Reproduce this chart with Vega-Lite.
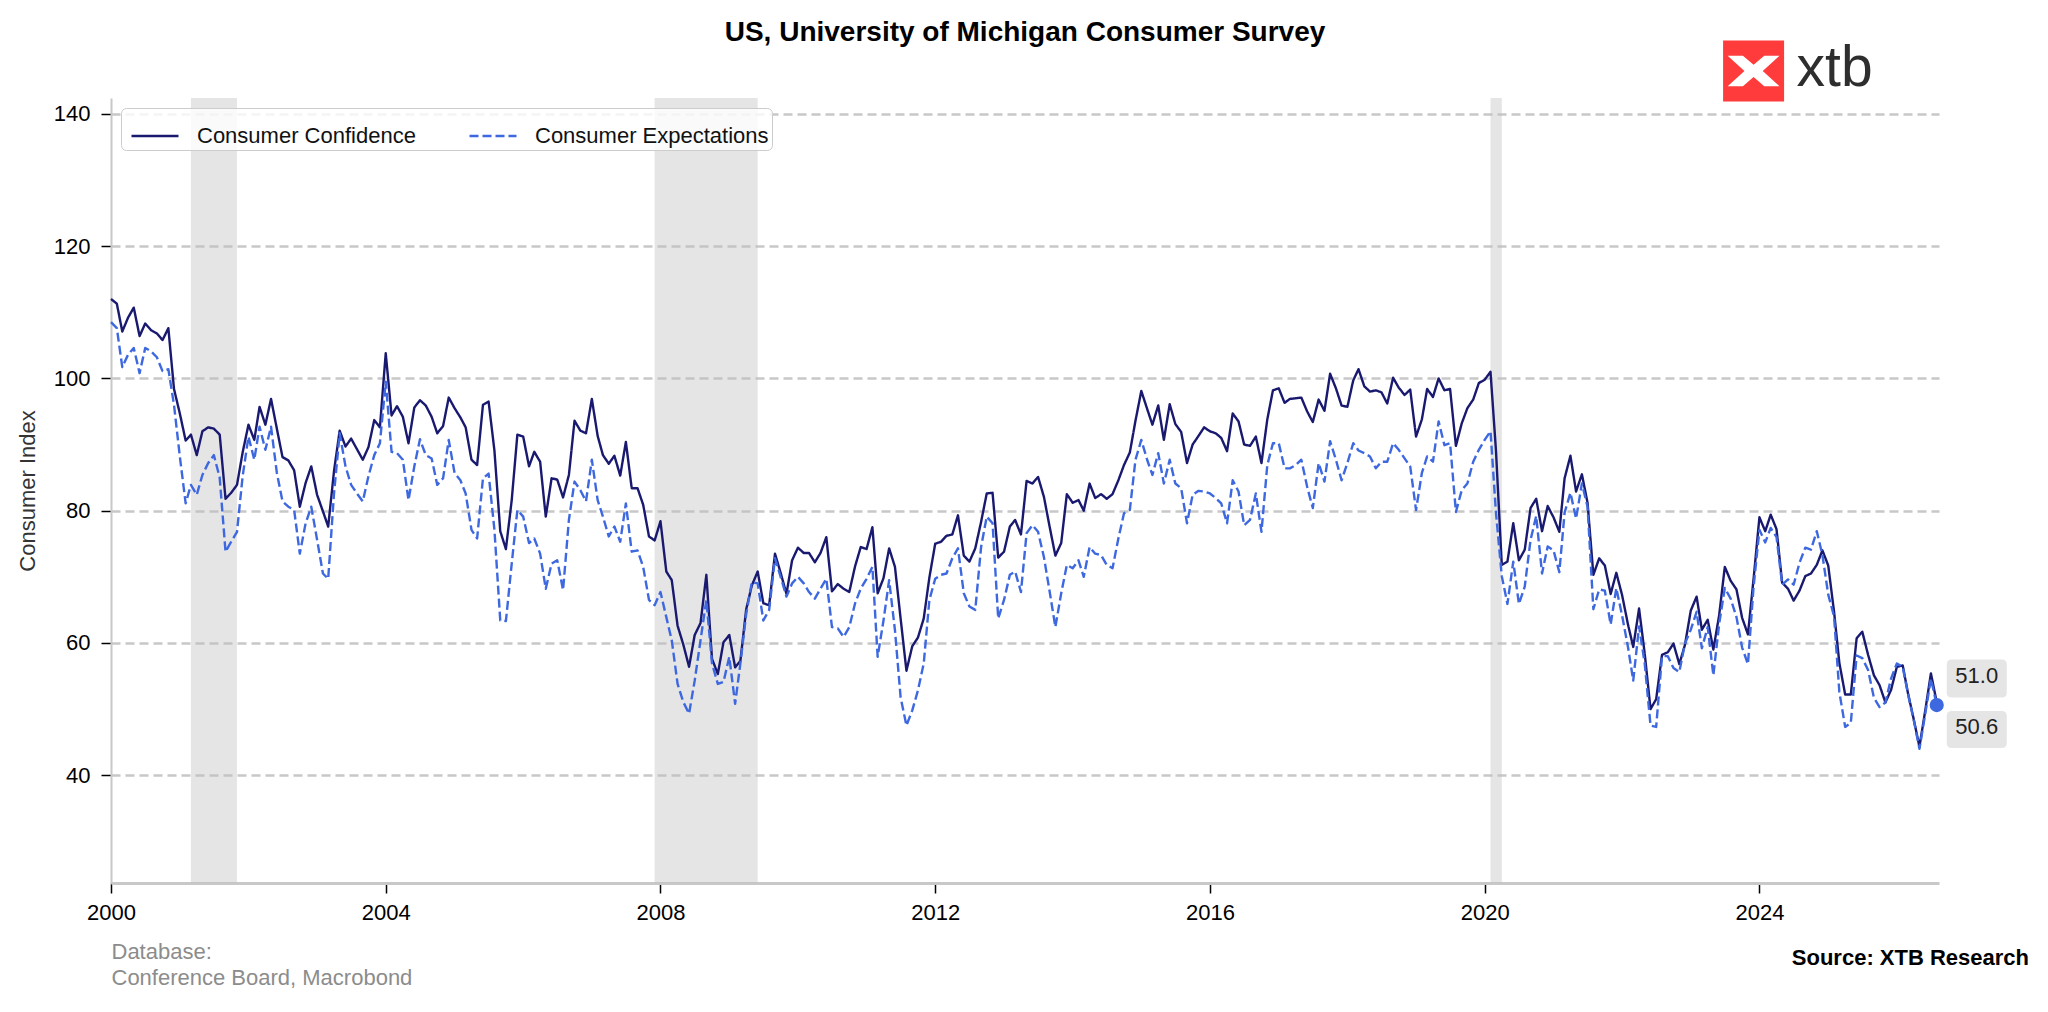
{
  "$schema": "https://vega.github.io/schema/vega-lite/v6.json",
  "autosize": {"type": "none"},
  "padding": {"left": 111, "top": 98, "right": 109, "bottom": 129},
  "width": 1828,
  "height": 785,
  "background": "white",
  "config": {
    "view": {"stroke": null},
    "font": "Liberation Sans"
  },
  "title": {
    "text": "US, University of Michigan Consumer Survey",
    "fontSize": 28,
    "fontWeight": "bold",
    "color": "#000000",
    "anchor": "middle",
    "frame": "group",
    "baseline": "bottom",
    "offset": -35
  },
  "data": {
    "values": [
      {"m":"2000-01-01","c":112.0,"e":108.5},{"m":"2000-02-01","c":111.3,"e":107.6},{"m":"2000-03-01","c":107.1,"e":101.7},{"m":"2000-04-01","c":109.2,"e":103.6},{"m":"2000-05-01","c":110.7,"e":104.6},{"m":"2000-06-01","c":106.4,"e":100.8},{"m":"2000-07-01","c":108.3,"e":104.6},{"m":"2000-08-01","c":107.3,"e":104.1},{"m":"2000-09-01","c":106.8,"e":103.2},{"m":"2000-10-01","c":105.8,"e":101.1},{"m":"2000-11-01","c":107.6,"e":101.4},{"m":"2000-12-01","c":98.4,"e":96.0},
      {"m":"2001-01-01","c":94.7,"e":88.2},{"m":"2001-02-01","c":90.6,"e":81.1},{"m":"2001-03-01","c":91.5,"e":83.9},{"m":"2001-04-01","c":88.4,"e":82.4},{"m":"2001-05-01","c":92.0,"e":85.4},{"m":"2001-06-01","c":92.6,"e":87.2},{"m":"2001-07-01","c":92.4,"e":88.4},{"m":"2001-08-01","c":91.5,"e":85.0},{"m":"2001-09-01","c":81.8,"e":73.8},{"m":"2001-10-01","c":82.7,"e":75.3},{"m":"2001-11-01","c":83.9,"e":76.8},{"m":"2001-12-01","c":88.8,"e":85.2},
      {"m":"2002-01-01","c":93.0,"e":91.2},{"m":"2002-02-01","c":90.7,"e":87.7},{"m":"2002-03-01","c":95.7,"e":92.7},{"m":"2002-04-01","c":93.0,"e":89.2},{"m":"2002-05-01","c":96.9,"e":92.7},{"m":"2002-06-01","c":92.4,"e":85.7},{"m":"2002-07-01","c":88.1,"e":81.4},{"m":"2002-08-01","c":87.6,"e":80.6},{"m":"2002-09-01","c":86.1,"e":80.1},{"m":"2002-10-01","c":80.6,"e":73.5},{"m":"2002-11-01","c":84.2,"e":78.1},{"m":"2002-12-01","c":86.7,"e":80.6},
      {"m":"2003-01-01","c":82.4,"e":75.6},{"m":"2003-02-01","c":79.9,"e":70.5},{"m":"2003-03-01","c":77.6,"e":69.7},{"m":"2003-04-01","c":86.0,"e":82.6},{"m":"2003-05-01","c":92.1,"e":91.7},{"m":"2003-06-01","c":89.7,"e":86.7},{"m":"2003-07-01","c":90.9,"e":83.9},{"m":"2003-08-01","c":89.3,"e":82.6},{"m":"2003-09-01","c":87.7,"e":81.4},{"m":"2003-10-01","c":89.6,"e":85.2},{"m":"2003-11-01","c":93.7,"e":88.4},{"m":"2003-12-01","c":92.6,"e":90.2},
      {"m":"2004-01-01","c":103.8,"e":99.5},{"m":"2004-02-01","c":94.4,"e":88.9},{"m":"2004-03-01","c":95.8,"e":88.7},{"m":"2004-04-01","c":94.2,"e":87.7},{"m":"2004-05-01","c":90.2,"e":81.6},{"m":"2004-06-01","c":95.6,"e":86.7},{"m":"2004-07-01","c":96.7,"e":90.8},{"m":"2004-08-01","c":95.9,"e":88.4},{"m":"2004-09-01","c":94.2,"e":87.9},{"m":"2004-10-01","c":91.7,"e":83.9},{"m":"2004-11-01","c":92.8,"e":84.9},{"m":"2004-12-01","c":97.1,"e":90.7},
      {"m":"2005-01-01","c":95.5,"e":85.7},{"m":"2005-02-01","c":94.1,"e":84.6},{"m":"2005-03-01","c":92.6,"e":82.6},{"m":"2005-04-01","c":87.7,"e":77.1},{"m":"2005-05-01","c":86.9,"e":75.8},{"m":"2005-06-01","c":96.0,"e":84.9},{"m":"2005-07-01","c":96.5,"e":85.6},{"m":"2005-08-01","c":89.1,"e":77.1},{"m":"2005-09-01","c":76.9,"e":63.4},{"m":"2005-10-01","c":74.2,"e":63.3},{"m":"2005-11-01","c":81.6,"e":72.0},{"m":"2005-12-01","c":91.5,"e":80.1},
      {"m":"2006-01-01","c":91.2,"e":79.1},{"m":"2006-02-01","c":86.7,"e":75.1},{"m":"2006-03-01","c":88.9,"e":75.8},{"m":"2006-04-01","c":87.4,"e":73.5},{"m":"2006-05-01","c":79.1,"e":68.2},{"m":"2006-06-01","c":84.9,"e":72.0},{"m":"2006-07-01","c":84.7,"e":72.5},{"m":"2006-08-01","c":82.0,"e":68.0},{"m":"2006-09-01","c":85.4,"e":78.6},{"m":"2006-10-01","c":93.6,"e":84.4},{"m":"2006-11-01","c":92.1,"e":83.1},{"m":"2006-12-01","c":91.7,"e":81.4},
      {"m":"2007-01-01","c":96.9,"e":87.7},{"m":"2007-02-01","c":91.3,"e":81.6},{"m":"2007-03-01","c":88.4,"e":79.1},{"m":"2007-04-01","c":87.1,"e":76.1},{"m":"2007-05-01","c":88.3,"e":77.6},{"m":"2007-06-01","c":85.3,"e":75.3},{"m":"2007-07-01","c":90.4,"e":81.1},{"m":"2007-08-01","c":83.4,"e":73.8},{"m":"2007-09-01","c":83.4,"e":74.0},{"m":"2007-10-01","c":80.9,"e":71.5},{"m":"2007-11-01","c":76.1,"e":66.5},{"m":"2007-12-01","c":75.5,"e":65.7},
      {"m":"2008-01-01","c":78.4,"e":67.7},{"m":"2008-02-01","c":70.8,"e":63.9},{"m":"2008-03-01","c":69.5,"e":60.4},{"m":"2008-04-01","c":62.6,"e":53.8},{"m":"2008-05-01","c":59.8,"e":51.1},{"m":"2008-06-01","c":56.4,"e":49.3},{"m":"2008-07-01","c":61.2,"e":54.3},{"m":"2008-08-01","c":63.0,"e":60.4},{"m":"2008-09-01","c":70.3,"e":66.5},{"m":"2008-10-01","c":57.6,"e":56.9},{"m":"2008-11-01","c":55.3,"e":53.8},{"m":"2008-12-01","c":60.1,"e":54.1},
      {"m":"2009-01-01","c":61.2,"e":57.9},{"m":"2009-02-01","c":56.3,"e":50.8},{"m":"2009-03-01","c":57.3,"e":56.9},{"m":"2009-04-01","c":65.1,"e":64.4},{"m":"2009-05-01","c":68.7,"e":69.2},{"m":"2009-06-01","c":70.8,"e":69.0},{"m":"2009-07-01","c":66.0,"e":63.4},{"m":"2009-08-01","c":65.7,"e":65.0},{"m":"2009-09-01","c":73.5,"e":72.8},{"m":"2009-10-01","c":70.6,"e":70.0},{"m":"2009-11-01","c":67.4,"e":67.0},{"m":"2009-12-01","c":72.5,"e":69.0},
      {"m":"2010-01-01","c":74.4,"e":70.0},{"m":"2010-02-01","c":73.6,"e":69.0},{"m":"2010-03-01","c":73.6,"e":67.7},{"m":"2010-04-01","c":72.2,"e":66.7},{"m":"2010-05-01","c":73.6,"e":68.2},{"m":"2010-06-01","c":76.0,"e":69.7},{"m":"2010-07-01","c":67.8,"e":62.4},{"m":"2010-08-01","c":68.9,"e":62.2},{"m":"2010-09-01","c":68.2,"e":60.9},{"m":"2010-10-01","c":67.7,"e":62.4},{"m":"2010-11-01","c":71.6,"e":66.0},{"m":"2010-12-01","c":74.5,"e":68.2},
      {"m":"2011-01-01","c":74.2,"e":69.7},{"m":"2011-02-01","c":77.5,"e":71.5},{"m":"2011-03-01","c":67.5,"e":57.9},{"m":"2011-04-01","c":69.8,"e":63.4},{"m":"2011-05-01","c":74.3,"e":69.5},{"m":"2011-06-01","c":71.5,"e":61.9},{"m":"2011-07-01","c":63.7,"e":51.8},{"m":"2011-08-01","c":55.8,"e":47.5},{"m":"2011-09-01","c":59.5,"e":49.8},{"m":"2011-10-01","c":60.8,"e":52.8},{"m":"2011-11-01","c":63.7,"e":56.9},{"m":"2011-12-01","c":69.9,"e":66.5},
      {"m":"2012-01-01","c":75.0,"e":69.7},{"m":"2012-02-01","c":75.3,"e":70.3},{"m":"2012-03-01","c":76.2,"e":70.5},{"m":"2012-04-01","c":76.4,"e":72.8},{"m":"2012-05-01","c":79.3,"e":74.3},{"m":"2012-06-01","c":73.2,"e":67.5},{"m":"2012-07-01","c":72.3,"e":65.5},{"m":"2012-08-01","c":74.3,"e":65.0},{"m":"2012-09-01","c":78.3,"e":74.5},{"m":"2012-10-01","c":82.6,"e":79.1},{"m":"2012-11-01","c":82.7,"e":78.1},{"m":"2012-12-01","c":72.9,"e":63.7},
      {"m":"2013-01-01","c":73.8,"e":66.5},{"m":"2013-02-01","c":77.6,"e":70.3},{"m":"2013-03-01","c":78.6,"e":70.8},{"m":"2013-04-01","c":76.4,"e":67.7},{"m":"2013-05-01","c":84.5,"e":76.6},{"m":"2013-06-01","c":84.1,"e":77.8},{"m":"2013-07-01","c":85.1,"e":76.8},{"m":"2013-08-01","c":82.1,"e":73.0},{"m":"2013-09-01","c":77.5,"e":67.7},{"m":"2013-10-01","c":73.2,"e":62.4},{"m":"2013-11-01","c":75.1,"e":67.5},{"m":"2013-12-01","c":82.5,"e":71.8},
      {"m":"2014-01-01","c":81.2,"e":71.3},{"m":"2014-02-01","c":81.6,"e":72.5},{"m":"2014-03-01","c":80.0,"e":70.0},{"m":"2014-04-01","c":84.1,"e":74.5},{"m":"2014-05-01","c":81.9,"e":73.5},{"m":"2014-06-01","c":82.5,"e":73.3},{"m":"2014-07-01","c":81.8,"e":71.8},{"m":"2014-08-01","c":82.5,"e":71.3},{"m":"2014-09-01","c":84.6,"e":75.8},{"m":"2014-10-01","c":86.9,"e":79.6},{"m":"2014-11-01","c":88.8,"e":80.1},{"m":"2014-12-01","c":93.6,"e":87.7},
      {"m":"2015-01-01","c":98.1,"e":90.7},{"m":"2015-02-01","c":95.4,"e":87.7},{"m":"2015-03-01","c":93.0,"e":85.4},{"m":"2015-04-01","c":95.9,"e":88.7},{"m":"2015-05-01","c":90.7,"e":84.1},{"m":"2015-06-01","c":96.1,"e":87.7},{"m":"2015-07-01","c":93.1,"e":84.1},{"m":"2015-08-01","c":91.9,"e":83.4},{"m":"2015-09-01","c":87.2,"e":78.1},{"m":"2015-10-01","c":90.0,"e":82.4},{"m":"2015-11-01","c":91.3,"e":83.0},{"m":"2015-12-01","c":92.6,"e":82.9},
      {"m":"2016-01-01","c":92.0,"e":82.6},{"m":"2016-02-01","c":91.7,"e":81.9},{"m":"2016-03-01","c":91.0,"e":81.1},{"m":"2016-04-01","c":89.0,"e":78.1},{"m":"2016-05-01","c":94.7,"e":84.6},{"m":"2016-06-01","c":93.5,"e":82.9},{"m":"2016-07-01","c":90.0,"e":77.8},{"m":"2016-08-01","c":89.8,"e":78.6},{"m":"2016-09-01","c":91.2,"e":82.6},{"m":"2016-10-01","c":87.2,"e":76.8},{"m":"2016-11-01","c":93.8,"e":86.9},{"m":"2016-12-01","c":98.2,"e":90.2},
      {"m":"2017-01-01","c":98.5,"e":90.2},{"m":"2017-02-01","c":96.3,"e":86.4},{"m":"2017-03-01","c":96.9,"e":86.4},{"m":"2017-04-01","c":97.0,"e":86.9},{"m":"2017-05-01","c":97.1,"e":87.7},{"m":"2017-06-01","c":95.0,"e":83.6},{"m":"2017-07-01","c":93.4,"e":80.4},{"m":"2017-08-01","c":96.8,"e":87.2},{"m":"2017-09-01","c":95.1,"e":84.4},{"m":"2017-10-01","c":100.7,"e":90.5},{"m":"2017-11-01","c":98.5,"e":87.7},{"m":"2017-12-01","c":95.9,"e":84.6},
      {"m":"2018-01-01","c":95.7,"e":87.2},{"m":"2018-02-01","c":99.7,"e":90.2},{"m":"2018-03-01","c":101.4,"e":89.1},{"m":"2018-04-01","c":98.8,"e":88.7},{"m":"2018-05-01","c":98.0,"e":88.2},{"m":"2018-06-01","c":98.2,"e":86.4},{"m":"2018-07-01","c":97.9,"e":87.4},{"m":"2018-08-01","c":96.2,"e":87.4},{"m":"2018-09-01","c":100.1,"e":90.2},{"m":"2018-10-01","c":98.6,"e":89.2},{"m":"2018-11-01","c":97.5,"e":87.9},{"m":"2018-12-01","c":98.3,"e":86.7},
      {"m":"2019-01-01","c":91.2,"e":80.1},{"m":"2019-02-01","c":93.8,"e":85.7},{"m":"2019-03-01","c":98.4,"e":88.2},{"m":"2019-04-01","c":97.2,"e":87.4},{"m":"2019-05-01","c":100.0,"e":93.5},{"m":"2019-06-01","c":98.2,"e":89.9},{"m":"2019-07-01","c":98.4,"e":90.2},{"m":"2019-08-01","c":89.8,"e":79.8},{"m":"2019-09-01","c":93.2,"e":83.1},{"m":"2019-10-01","c":95.5,"e":84.1},{"m":"2019-11-01","c":96.8,"e":87.4},{"m":"2019-12-01","c":99.3,"e":89.2},
      {"m":"2020-01-01","c":99.8,"e":90.7},{"m":"2020-02-01","c":101.0,"e":92.0},{"m":"2020-03-01","c":89.1,"e":79.7},{"m":"2020-04-01","c":71.8,"e":70.1},{"m":"2020-05-01","c":72.3,"e":65.9},{"m":"2020-06-01","c":78.1,"e":72.3},{"m":"2020-07-01","c":72.5,"e":65.9},{"m":"2020-08-01","c":74.1,"e":68.5},{"m":"2020-09-01","c":80.4,"e":75.6},{"m":"2020-10-01","c":81.8,"e":79.2},{"m":"2020-11-01","c":76.9,"e":70.5},{"m":"2020-12-01","c":80.7,"e":74.6},
      {"m":"2021-01-01","c":79.0,"e":74.0},{"m":"2021-02-01","c":76.8,"e":70.7},{"m":"2021-03-01","c":84.9,"e":79.7},{"m":"2021-04-01","c":88.3,"e":82.7},{"m":"2021-05-01","c":82.9,"e":78.8},{"m":"2021-06-01","c":85.5,"e":84.1},{"m":"2021-07-01","c":81.2,"e":80.6},{"m":"2021-08-01","c":70.3,"e":65.1},{"m":"2021-09-01","c":72.8,"e":68.1},{"m":"2021-10-01","c":71.7,"e":67.9},{"m":"2021-11-01","c":67.4,"e":62.8},{"m":"2021-12-01","c":70.6,"e":68.3},
      {"m":"2022-01-01","c":67.2,"e":64.1},{"m":"2022-02-01","c":62.8,"e":59.4},{"m":"2022-03-01","c":59.4,"e":54.3},{"m":"2022-04-01","c":65.2,"e":62.5},{"m":"2022-05-01","c":58.4,"e":56.9},{"m":"2022-06-01","c":50.0,"e":47.5},{"m":"2022-07-01","c":51.5,"e":47.3},{"m":"2022-08-01","c":58.2,"e":58.0},{"m":"2022-09-01","c":58.6,"e":58.0},{"m":"2022-10-01","c":59.9,"e":56.2},{"m":"2022-11-01","c":56.8,"e":55.6},{"m":"2022-12-01","c":59.7,"e":59.9},
      {"m":"2023-01-01","c":64.9,"e":62.0},{"m":"2023-02-01","c":67.0,"e":64.7},{"m":"2023-03-01","c":62.0,"e":59.2},{"m":"2023-04-01","c":63.5,"e":62.4},{"m":"2023-05-01","c":59.0,"e":55.1},{"m":"2023-06-01","c":64.2,"e":62.9},{"m":"2023-07-01","c":71.5,"e":68.3},{"m":"2023-08-01","c":69.4,"e":66.7},{"m":"2023-09-01","c":68.1,"e":63.9},{"m":"2023-10-01","c":63.8,"e":59.3},{"m":"2023-11-01","c":61.3,"e":56.8},{"m":"2023-12-01","c":69.7,"e":68.5},
      {"m":"2024-01-01","c":79.0,"e":77.1},{"m":"2024-02-01","c":76.9,"e":75.2},{"m":"2024-03-01","c":79.4,"e":77.4},{"m":"2024-04-01","c":77.2,"e":76.0},{"m":"2024-05-01","c":69.1,"e":68.8},{"m":"2024-06-01","c":68.2,"e":69.6},{"m":"2024-07-01","c":66.4,"e":68.8},{"m":"2024-08-01","c":67.9,"e":72.1},{"m":"2024-09-01","c":70.1,"e":74.4},{"m":"2024-10-01","c":70.5,"e":74.1},{"m":"2024-11-01","c":71.8,"e":76.9},{"m":"2024-12-01","c":74.0,"e":73.3},
      {"m":"2025-01-01","c":71.7,"e":67.3},{"m":"2025-02-01","c":64.7,"e":64.0},{"m":"2025-03-01","c":57.0,"e":52.6},{"m":"2025-04-01","c":52.2,"e":47.3},{"m":"2025-05-01","c":52.2,"e":47.9},{"m":"2025-06-01","c":60.7,"e":58.1},{"m":"2025-07-01","c":61.7,"e":57.7},{"m":"2025-08-01","c":58.2,"e":55.9},{"m":"2025-09-01","c":55.1,"e":51.7},{"m":"2025-10-01","c":53.6,"e":50.3},{"m":"2025-11-01","c":51.0,"e":51.0},{"m":"2025-12-01","c":52.9,"e":54.6},
      {"m":"2026-01-01","c":56.4,"e":56.9},{"m":"2026-02-01","c":56.6,"e":56.4},{"m":"2026-03-01","c":52.4,"e":52.3},{"m":"2026-04-01","c":48.4,"e":48.3},{"m":"2026-05-01","c":44.3,"e":44.0},{"m":"2026-06-01","c":49.8,"e":49.3},{"m":"2026-07-01","c":55.4,"e":54.6},{"m":"2026-08-01","c":51.0,"e":50.6}
    ]
  },
  "layer": [
    {
      "data": {
        "values": [
          {"s": "2001-03-01", "t": "2001-11-01"},
          {"s": "2007-12-01", "t": "2009-06-01"},
          {"s": "2020-02-01", "t": "2020-04-01"}
        ]
      },
      "mark": {"type": "rect", "color": "#bdbdbd", "opacity": 0.4},
      "encoding": {
        "x": {"field": "s", "type": "temporal"},
        "x2": {"field": "t"}
      }
    },
    {
      "transform": [{"fold": ["c", "e"], "as": ["series", "val"]}],
      "encoding": {
        "x": {
          "field": "m",
          "type": "temporal",
          "scale": {
            "type": "utc",
            "nice": false,
            "domain": [
              {"year": 2000, "month": 1, "date": 1, "utc": true},
              {"year": 2026, "month": 8, "date": 13, "utc": true}
            ]
          },
          "axis": {
            "title": ["Database:", "Conference Board, Macrobond"],
            "tickCount": {"interval": "year", "step": 4},
            "format": "%Y",
            "grid": false,
            "domainColor": "#c8c8c8",
            "domainWidth": 3,
            "tickColor": "#000000",
            "tickSize": 10,
            "tickWidth": 1.5,
            "labelFontSize": 22,
            "labelColor": "#000000",
            "labelPadding": 9,
            "labelFlush": false,
            "titleAnchor": "start",
            "titleAlign": "left",
            "titleFontSize": 22,
            "titleFontWeight": "normal",
            "titleColor": "#8c8c8c",
            "titleLineHeight": 26,
            "titlePadding": 18
          }
        },
        "y": {
          "field": "val",
          "type": "quantitative",
          "scale": {"domain": [23.7, 142.4], "nice": false, "zero": false},
          "axis": {
            "title": "Consumer Index",
            "values": [40, 60, 80, 100, 120, 140],
            "grid": true,
            "gridDash": [9, 5],
            "gridColor": "#c8c8c8",
            "gridWidth": 2.5,
            "domainColor": "#c8c8c8",
            "domainWidth": 2,
            "tickColor": "#000000",
            "tickSize": 10,
            "tickWidth": 1.5,
            "labelFontSize": 22,
            "labelColor": "#000000",
            "labelPadding": 11,
            "titleFontSize": 22,
            "titleFontWeight": "normal",
            "titleColor": "#333333",
            "titlePadding": 14
          }
        }
      },
      "layer": [
        {
          "mark": {"type": "line", "strokeWidth": 2.4, "strokeJoin": "round"},
          "encoding": {
            "color": {
              "field": "series",
              "type": "nominal",
              "scale": {"domain": ["c", "e"], "range": ["#191970", "#3d68e0"]},
              "legend": {
                "title": null,
                "orient": "top-left",
                "offset": 10,
                "direction": "horizontal",
                "symbolType": "stroke",
                "symbolSize": 2209,
                "symbolStrokeWidth": 2.4,
                "symbolOffset": 6,
                "labelFontSize": 22,
                "labelColor": "#111111",
                "labelLimit": 0,
                "labelOffset": 17,
                "columnPadding": 46,
                "padding": 3,
                "fillColor": "rgba(255,255,255,0.8)",
                "strokeColor": "#cccccc",
                "cornerRadius": 5,
                "labelExpr": "datum.label == 'c' ? 'Consumer Confidence' : 'Consumer Expectations'"
              }
            },
            "strokeDash": {
              "field": "series",
              "type": "nominal",
              "scale": {"domain": ["c", "e"], "range": [[1, 0], [9, 4]]}
            }
          }
        },
        {
          "transform": [{"filter": "utcyear(datum.m) == 2026 && utcmonth(datum.m) == 7 && datum.series == 'c'"}],
          "mark": {
            "type": "point",
            "shape": "M1.5,-4.3H6.5Q7,-4.3 7,-3.8V-1Q7,-0.5 6.5,-0.5H1.5Q1,-0.5 1,-1V-3.8Q1,-4.3 1.5,-4.3Z",
            "size": 400,
            "filled": true,
            "color": "#e5e5e5",
            "opacity": 1,
            "strokeWidth": 0
          }
        },
        {
          "transform": [{"filter": "utcyear(datum.m) == 2026 && utcmonth(datum.m) == 7 && datum.series == 'c'"}],
          "mark": {"type": "text", "align": "center", "baseline": "alphabetic", "dx": 40, "dy": -19, "fontSize": 22, "color": "#222222"},
          "encoding": {"text": {"field": "val", "type": "quantitative", "format": ".1f"}}
        },
        {
          "transform": [{"filter": "utcyear(datum.m) == 2026 && utcmonth(datum.m) == 7 && datum.series == 'e'"}],
          "mark": {
            "type": "point",
            "shape": "M1.5,0.6H6.5Q7,0.6 7,1.1V3.8Q7,4.3 6.5,4.3H1.5Q1,4.3 1,3.8V1.1Q1,0.6 1.5,0.6Z",
            "size": 400,
            "filled": true,
            "color": "#e5e5e5",
            "opacity": 1,
            "strokeWidth": 0
          }
        },
        {
          "transform": [{"filter": "utcyear(datum.m) == 2026 && utcmonth(datum.m) == 7 && datum.series == 'e'"}],
          "mark": {"type": "text", "align": "center", "baseline": "alphabetic", "dx": 40, "dy": 29, "fontSize": 22, "color": "#222222"},
          "encoding": {"text": {"field": "val", "type": "quantitative", "format": ".1f"}}
        },
        {
          "transform": [{"filter": "utcyear(datum.m) == 2026 && utcmonth(datum.m) == 7 && datum.series == 'e'"}],
          "mark": {"type": "point", "size": 200, "filled": true, "color": "#3d68e0", "opacity": 1}
        }
      ]
    },
    {
      "data": {"values": [{}]},
      "encoding": {
        "x": {"datum": {"year": 2023, "month": 12, "date": 1, "utc": true}, "type": "temporal"},
        "y": {"datum": 146.5, "type": "quantitative"}
      },
      "layer": [
        {"mark": {"type": "point", "shape": "square", "size": 3721, "filled": true, "color": "#ff3b3b", "opacity": 1, "strokeWidth": 0}},
        {"mark": {"type": "point", "shape": "M-0.85,-0.5L-0.35,-0.5L0,-0.2L0.35,-0.5L0.85,-0.5L0.3,0L0.85,0.5L0.35,0.5L0,0.2L-0.35,0.5L-0.85,0.5L-0.3,0Z", "size": 3721, "filled": true, "color": "#ffffff", "opacity": 1, "strokeWidth": 0}},
        {"mark": {"type": "text", "text": "xtb", "align": "left", "baseline": "alphabetic", "dx": 43, "dy": 15, "fontSize": 57, "color": "#2e2e2e"}},
        {
          "mark": {"type": "text", "text": "Source: XTB Research", "align": "right", "baseline": "alphabetic", "dx": 90, "dy": 82, "fontSize": 22, "fontWeight": "bold", "color": "#000000"},
          "encoding": {
            "x": {"datum": {"year": 2026, "month": 8, "date": 13, "utc": true}, "type": "temporal"},
            "y": {"datum": 23.7, "type": "quantitative"}
          }
        }
      ]
    }
  ]
}
